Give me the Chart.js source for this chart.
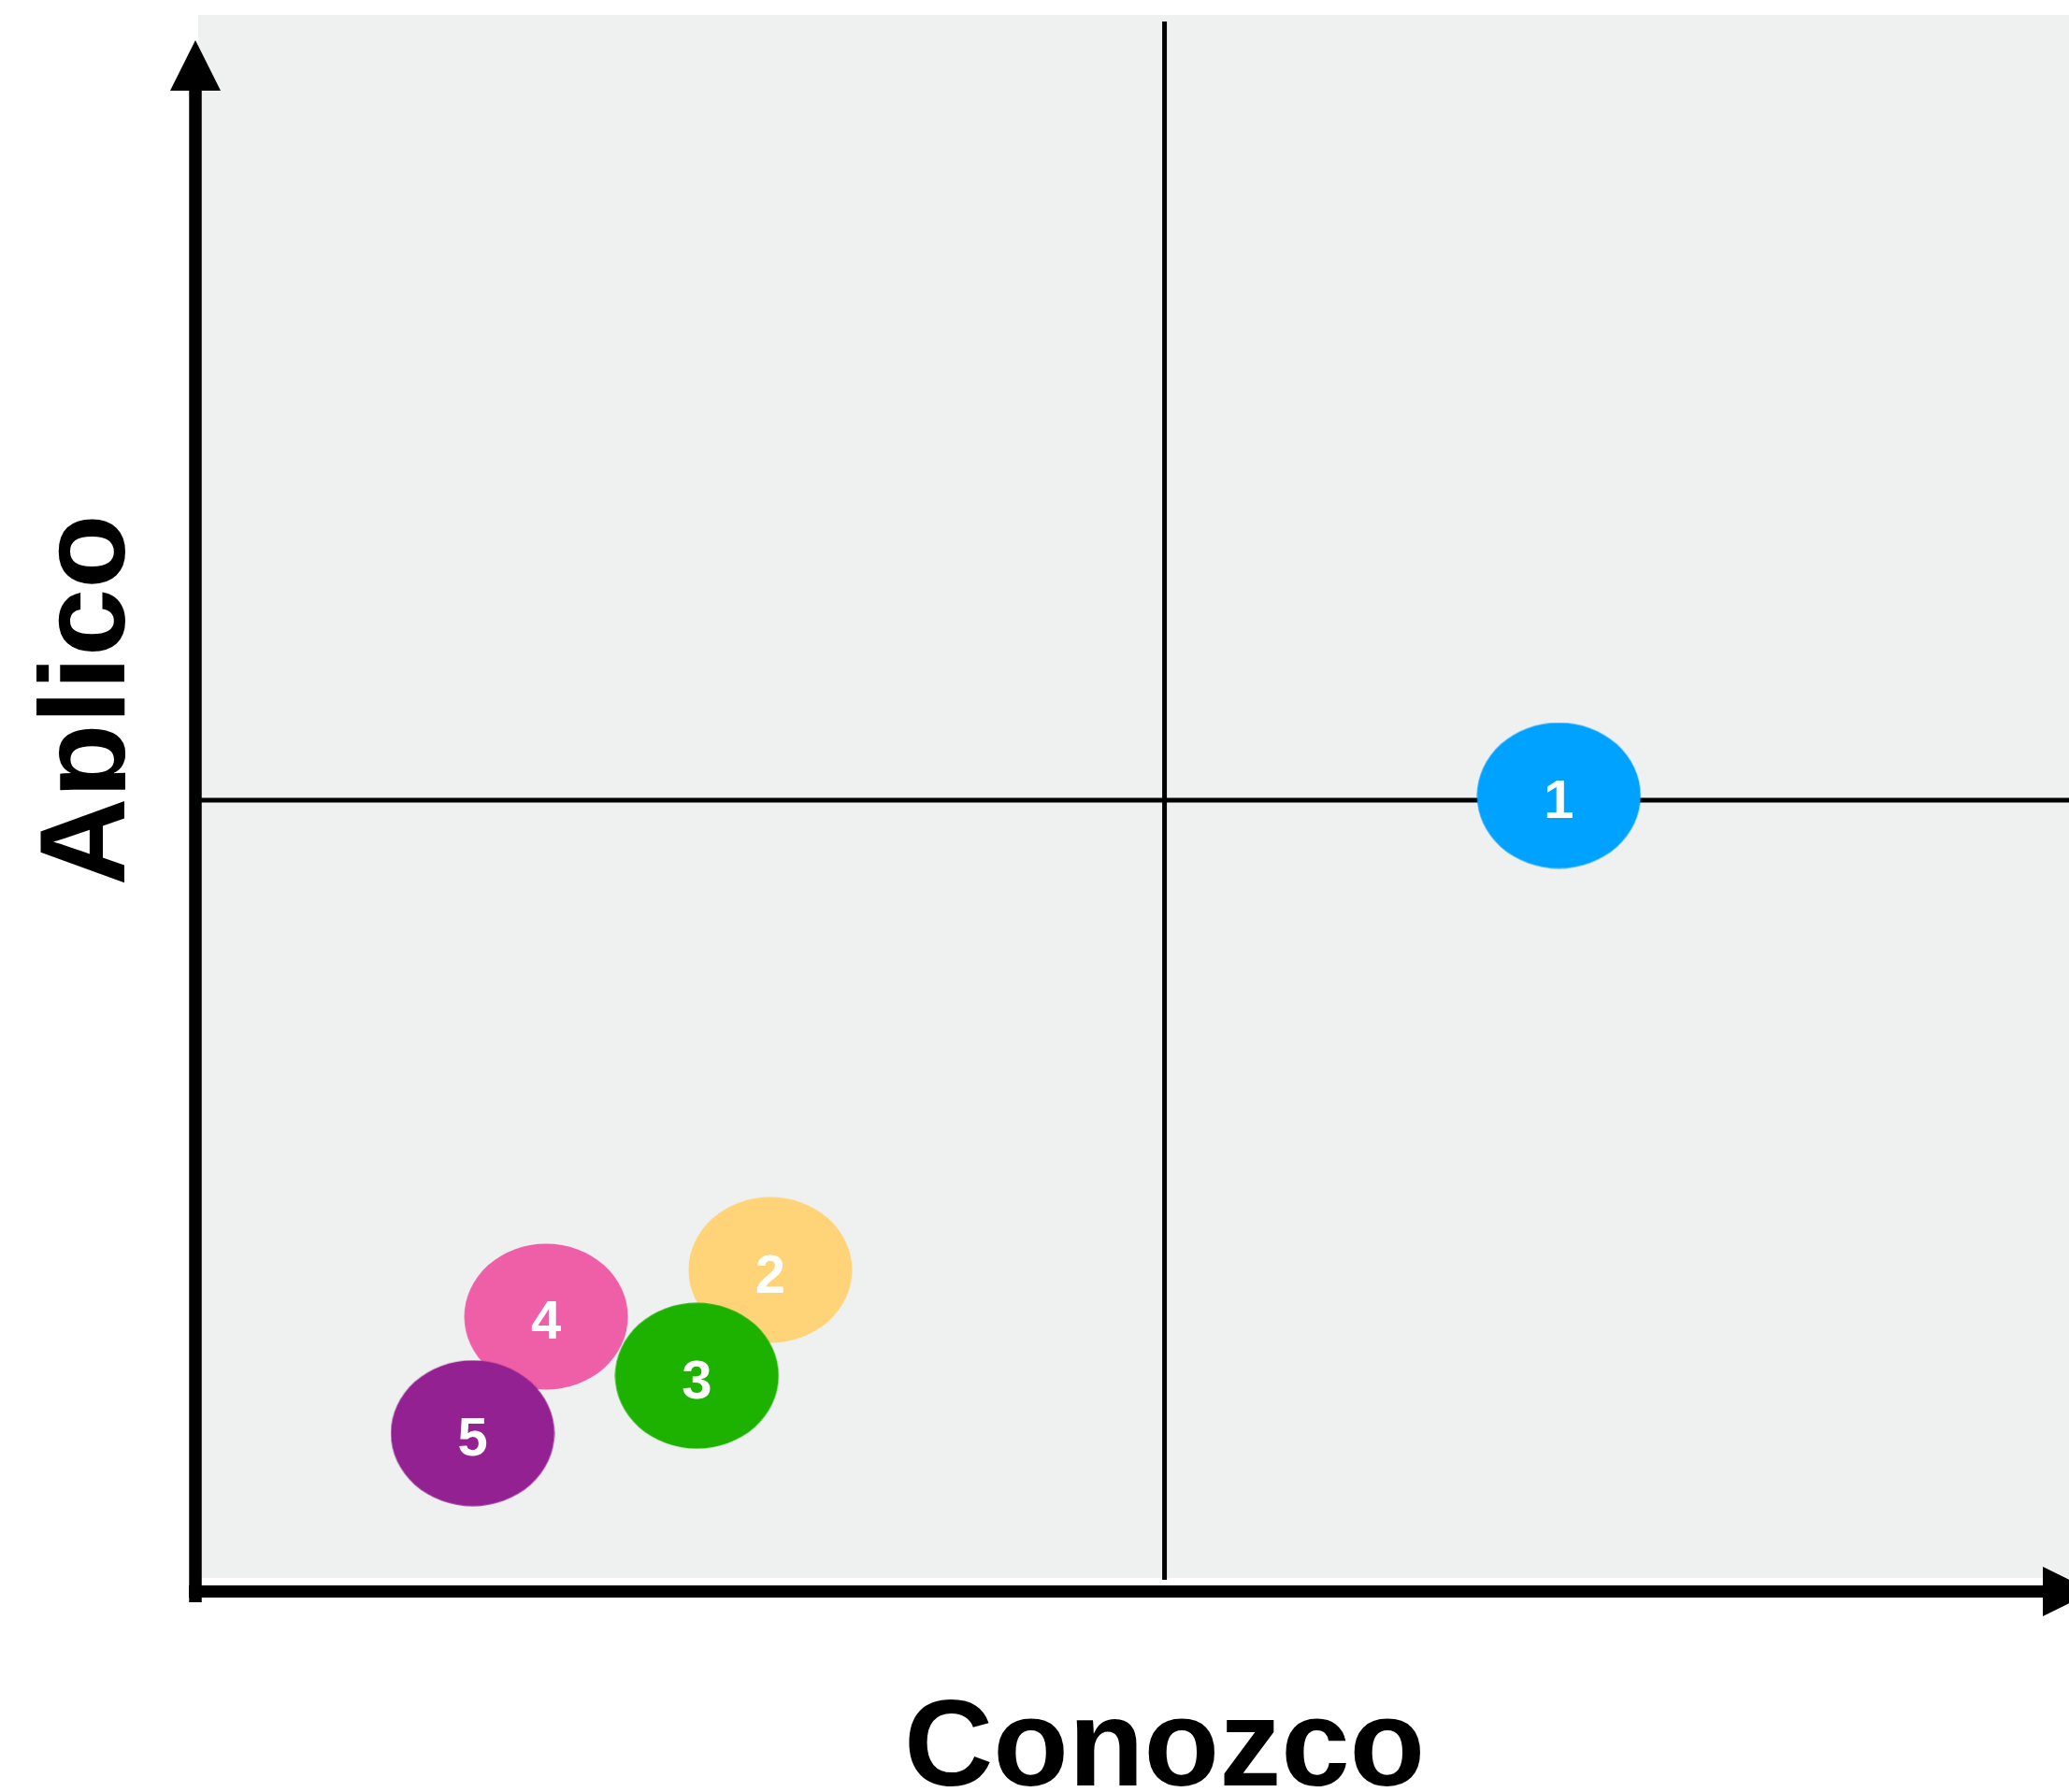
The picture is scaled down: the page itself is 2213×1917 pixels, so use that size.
<!DOCTYPE html>
<html>
<head>
<meta charset="utf-8">
<script src="https://cdn.jsdelivr.net/npm/chart.js@4.4.0/dist/chart.umd.min.js"></script>
<style>
  html, body { margin: 0; padding: 0; background: #fff; }
  #myChart { display: block; }
</style>
</head>
<body>
<canvas id="myChart" width="2213" height="1917"></canvas>
<script>
// data
var bubbleLabels = ['1', '2', '3', '4', '5'];
var conozco = [7.04, 2.96, 2.58, 1.80, 1.42];
var aplico = [5.03, 1.98, 1.30, 1.68, 0.93];
var bubbleColors = ['#00a2ff', '#ffd479', '#1db100', '#ef5fa7', '#942192'];
var stackOrder = [4, 3, 0, 2, 1]; // lower = drawn on top
var xTitle = 'Conozco';
var yTitle = 'Aplico';
var xRange = [0, 9.68]; // right side of the plot is cut off
var yRange = [0, 10];
var splitAt = [5, 5];

// bubbles are slightly flattened ellipses, so draw them as image point styles
function makeEllipse(color) {
    var c = document.createElement('canvas');
    c.width = 176;
    c.height = 157;
    var g = c.getContext('2d');
    g.fillStyle = color;
    g.beginPath();
    g.ellipse(88, 78.5, 87.5, 78, 0, 0, Math.PI * 2);
    g.fill();
    return c;
}

var quadrantPlugin = {
    id: 'quadrant',
    beforeDraw: function(chart) {
        var ctx = chart.ctx, a = chart.chartArea;
        ctx.save();
        ctx.fillStyle = '#eff1f0';
        ctx.fillRect(a.left, a.top - 8, chart.width - a.left, a.bottom - a.top + 8);
        ctx.restore();
    },
    beforeDatasetsDraw: function(chart) {
        var ctx = chart.ctx, a = chart.chartArea;
        var x = chart.scales.x.getPixelForValue(splitAt[0]);
        var y = chart.scales.y.getPixelForValue(splitAt[1]);
        ctx.save();
        ctx.strokeStyle = '#000';
        ctx.lineWidth = 5;
        ctx.beginPath();
        ctx.moveTo(x, a.top - 1);
        ctx.lineTo(x, a.bottom + 2);
        ctx.moveTo(a.left + 2, y);
        ctx.lineTo(chart.width, y);
        ctx.stroke();
        ctx.restore();
    },
    afterDatasetsDraw: function(chart) {
        var ctx = chart.ctx;
        ctx.save();
        ctx.fillStyle = '#fff';
        ctx.font = "bold 58px 'Liberation Sans', Arial, sans-serif";
        ctx.textAlign = 'center';
        ctx.textBaseline = 'alphabetic';
        chart.data.datasets.forEach(function(ds, i) {
            var el = chart.getDatasetMeta(i).data[0];
            ctx.fillText(ds.label, el.x, el.y + 24);
        });
        ctx.restore();
    },
    afterDraw: function(chart) {
        var ctx = chart.ctx, a = chart.chartArea;
        var midX = chart.scales.x.getPixelForValue(splitAt[0]);
        ctx.save();
        ctx.fillStyle = '#000';

        // y axis with arrow
        var ax = a.left - 3;
        ctx.fillRect(ax - 6.75, a.top + 72, 13.5, a.bottom - a.top - 72 + 26);
        ctx.beginPath();
        ctx.moveTo(ax, a.top + 19);
        ctx.lineTo(ax - 27, a.top + 73);
        ctx.lineTo(ax + 27, a.top + 73);
        ctx.closePath();
        ctx.fill();

        // x axis with arrow (tip runs past the edge)
        var ay = a.bottom + 14.5;
        var headX = a.right - 28;
        ctx.fillRect(a.left - 10, ay - 6.5, headX - (a.left - 10) + 1, 13);
        ctx.beginPath();
        ctx.moveTo(headX, ay - 26.5);
        ctx.lineTo(headX + 54, ay);
        ctx.lineTo(headX, ay + 26.5);
        ctx.closePath();
        ctx.fill();

        // axis titles
        ctx.textAlign = 'center';
        ctx.textBaseline = 'alphabetic';
        ctx.font = "bold 132px 'Liberation Sans', Arial, sans-serif";
        ctx.fillText(xTitle, midX, a.bottom + 222);

        ctx.beginPath();
        ctx.rect(0, 0, 134, chart.height);
        ctx.clip();
        ctx.translate(133, (a.top + a.bottom) / 2 - 107);
        ctx.rotate(-Math.PI / 2);
        ctx.font = "bold 130px 'Liberation Sans', Arial, sans-serif";
        ctx.fillText(yTitle, 0, 0);
        ctx.restore();
    }
};

var datasets = bubbleLabels.map(function(lbl, i) {
    return {
        label: lbl,
        data: [{ x: conozco[i], y: aplico[i] }],
        pointStyle: makeEllipse(bubbleColors[i]),
        backgroundColor: bubbleColors[i],
        borderColor: bubbleColors[i],
        pointRadius: 3,
        order: stackOrder[i]
    };
});

var ctx = document.getElementById('myChart');
var myChart = new Chart(ctx, {
    type: 'scatter',
    data: { datasets: datasets },
    options: {
        responsive: false,
        devicePixelRatio: 1,
        animation: false,
        layout: { autoPadding: false, padding: { left: 212, top: 24, right: 0, bottom: 229 } },
        plugins: {
            legend: { display: false },
            tooltip: { enabled: false }
        },
        scales: {
            x: { display: false, min: xRange[0], max: xRange[1] },
            y: { display: false, min: yRange[0], max: yRange[1] }
        }
    },
    plugins: [quadrantPlugin]
});
</script>
</body>
</html>
